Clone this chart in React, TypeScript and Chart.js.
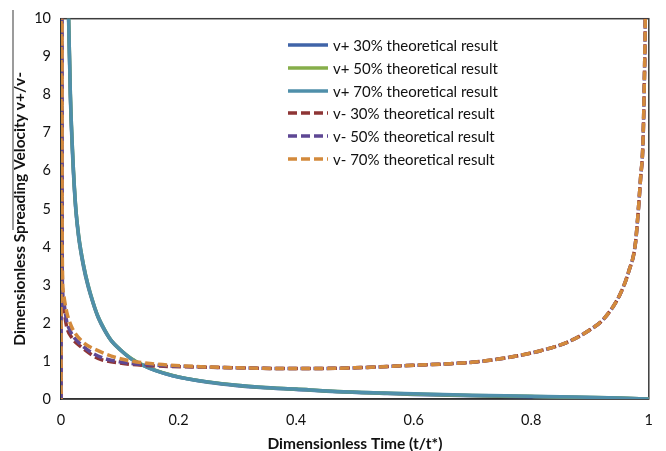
import React, { useEffect, useRef } from "react";
import { Chart, registerables } from "chart.js";

Chart.register(...registerables);

// ---- data ----
const xTickValues = [0, 0.2, 0.4, 0.6, 0.8, 1];
const yMin = 0;
const yMax = 10;

const seriesLabels = [
  "v+ 30% theoretical result",
  "v+ 50% theoretical result",
  "v+ 70% theoretical result",
  "v- 30% theoretical result",
  "v- 50% theoretical result",
  "v- 70% theoretical result",
];

// v+ curves (solid)
const tPlus = [0.01, 0.0124, 0.016, 0.02, 0.025, 0.03, 0.038, 0.046, 0.055, 0.063, 0.075, 0.086, 0.1, 0.12, 0.14, 0.16, 0.19, 0.215, 0.25, 0.3, 0.34, 0.4, 0.47, 0.55, 0.6, 0.7, 0.8, 0.9, 0.95, 1.0];
const vPlus30 = [12.8, 10.3, 7.9, 6.3, 5.0, 4.25, 3.5, 2.96, 2.5, 2.15, 1.78, 1.52, 1.3, 1.05, 0.88, 0.75, 0.61, 0.53, 0.44, 0.35, 0.3, 0.25, 0.19, 0.145, 0.12, 0.085, 0.06, 0.035, 0.02, 0.0];
const vPlus50 = [12.9, 10.4, 8.0, 6.4, 5.05, 4.3, 3.55, 3.0, 2.52, 2.17, 1.8, 1.53, 1.31, 1.06, 0.89, 0.76, 0.62, 0.535, 0.45, 0.36, 0.31, 0.26, 0.2, 0.155, 0.13, 0.095, 0.07, 0.042, 0.025, 0.0];
const vPlus70 = [12.9, 10.4, 8.0, 6.4, 5.05, 4.3, 3.55, 3.0, 2.52, 2.17, 1.8, 1.53, 1.31, 1.05, 0.88, 0.75, 0.61, 0.53, 0.45, 0.36, 0.31, 0.26, 0.2, 0.16, 0.135, 0.1, 0.075, 0.045, 0.028, 0.0];

// v- curves (dashed)
const tMinus = [0, 0.0006, 0.002, 0.004, 0.0096, 0.018, 0.035, 0.063, 0.103, 0.159, 0.238, 0.3, 0.4, 0.5, 0.59, 0.65, 0.703, 0.76, 0.816, 0.861, 0.9, 0.923, 0.951, 0.966, 0.977, 0.982, 0.986, 0.99, 0.992, 0.994, 0.996];
const vMinus30 = [0, 25, 3.2, 2.4, 1.9, 1.62, 1.36, 1.07, 0.94, 0.87, 0.84, 0.82, 0.8, 0.82, 0.88, 0.92, 0.97, 1.09, 1.27, 1.49, 1.82, 2.1, 2.75, 3.36, 4.06, 4.93, 5.8, 6.7, 8.0, 10.0, 14.0];
const vMinus50 = [0, 25, 3.5, 2.6, 2.05, 1.72, 1.42, 1.13, 0.97, 0.89, 0.845, 0.82, 0.8, 0.82, 0.88, 0.92, 0.97, 1.09, 1.27, 1.49, 1.82, 2.1, 2.75, 3.36, 4.06, 4.93, 5.8, 6.7, 8.0, 10.0, 14.0];
const vMinus70 = [0, 25, 4.2, 2.8, 2.3, 1.9, 1.53, 1.27, 1.05, 0.92, 0.85, 0.82, 0.8, 0.82, 0.88, 0.92, 0.97, 1.09, 1.27, 1.49, 1.82, 2.1, 2.75, 3.36, 4.06, 4.93, 5.8, 6.7, 8.0, 10.0, 14.0];

const colors = ["#4064A8", "#86AE4A", "#4F8FAA", "#8E3535", "#5E4794", "#D38A3C"];
const dashed = [false, false, false, true, true, true];

const FONT = "Lato, 'Open Sans', sans-serif";

const toPoints = (xs: number[], ys: number[]) => xs.map((x, i) => ({ x, y: ys[i] }));

const framePlugin = {
  id: "frame",
  beforeDatasetsDraw(chart: any) {
    const { ctx, chartArea } = chart;
    ctx.save();
    ctx.strokeStyle = "#3c3c3c";
    ctx.lineWidth = 1.5;
    ctx.strokeRect(chartArea.left, chartArea.top, chartArea.right - chartArea.left, chartArea.bottom - chartArea.top);
    ctx.restore();
  },
  afterDraw(chart: any) {
    const { ctx } = chart;
    ctx.save();
    ctx.strokeStyle = "#7a7a7a";
    ctx.lineWidth = 1.5;
    ctx.beginPath();
    ctx.moveTo(13, 10);
    ctx.lineTo(13, 230);
    ctx.stroke();
    ctx.restore();
  },
};

export default function App() {
  const ref = useRef<HTMLCanvasElement>(null);

  useEffect(() => {
    if (!ref.current) return;
    const plusData = [vPlus30, vPlus50, vPlus70];
    const minusData = [vMinus30, vMinus50, vMinus70];
    const datasets: any[] = seriesLabels.map((label, i) => {
      const isDash = dashed[i];
      const data = isDash ? toPoints(tMinus, minusData[i - 3]) : toPoints(tPlus, plusData[i]);
      return {
        label,
        data,
        borderColor: colors[i],
        backgroundColor: colors[i],
        borderWidth: 3.5,
        borderDash: isDash ? [9, 4] : [],
        borderDashOffset: isDash ? (i - 3) * 4 : 0,
        pointRadius: 0,
        fill: false,
        cubicInterpolationMode: "monotone",
        order: 6 - i,
      };
    });

    const chart = new Chart(ref.current, {
      type: "line",
      data: { datasets },
      options: {
        animation: false,
        responsive: false,
        maintainAspectRatio: false,
        layout: { padding: { top: 16, right: 14, left: 0, bottom: 0 } },
        plugins: { legend: { display: false }, tooltip: { enabled: false } },
        scales: {
          x: {
            type: "linear",
            min: 0,
            max: 1,
            grid: { display: false, drawTicks: false },
            border: { display: true, color: "#111", width: 1.5 },
            afterBuildTicks: (scale: any) => {
              scale.ticks = xTickValues.map((v) => ({ value: v }));
            },
            afterFit: (scale: any) => {
              scale.height = 52;
            },
            ticks: {
              padding: 13,
              color: "#111",
              font: { family: FONT, size: 14.5 },
              callback: (v: any) => String(Number(Number(v).toFixed(1))),
            },
            title: {
              display: true,
              text: "Dimensionless Time (t/t*)",
              color: "#111",
              font: { family: FONT, size: 15.5, weight: "bold", lineHeight: 1 },
              padding: { top: 0, bottom: -1 },
            },
          },
          y: {
            type: "linear",
            min: yMin,
            max: yMax,
            grid: { display: false, drawTicks: false },
            border: { display: true, color: "#111", width: 1.5 },
            afterFit: (scale: any) => {
              scale.width = 61;
            },
            ticks: {
              stepSize: 1,
              padding: 10,
              color: "#111",
              font: { family: FONT, size: 14.5 },
            },
            title: {
              display: true,
              text: "Dimensionless Spreading Velocity v+/v-",
              color: "#111",
              font: { family: FONT, size: 15.5, weight: "bold", lineHeight: 1 },
              padding: { top: 12.5, bottom: 0 },
            },
          },
        },
      },
      plugins: [framePlugin],
    } as any);
    return () => chart.destroy();
  }, []);

  return (
    <div style={{ position: "absolute", left: 0, top: 0, width: 666, height: 451, background: "#fff" }}>
      <canvas ref={ref} width={666} height={451} style={{ position: "absolute", left: 0, top: 0 }} />
      <div style={{ position: "absolute", left: 287, top: 34, fontFamily: FONT, fontSize: 15, color: "#111" }}>
        {seriesLabels.map((label, i) => (
          <div key={label} style={{ display: "flex", alignItems: "center", height: 22.7 }}>
            <svg width={42} height={8} style={{ marginRight: 4 }}>
              <line
                x1={1}
                y1={4}
                x2={41}
                y2={4}
                stroke={colors[i]}
                strokeWidth={3.5}
                strokeDasharray={dashed[i] ? "9 4" : undefined}
              />
            </svg>
            <span>{label}</span>
          </div>
        ))}
      </div>
    </div>
  );
}
